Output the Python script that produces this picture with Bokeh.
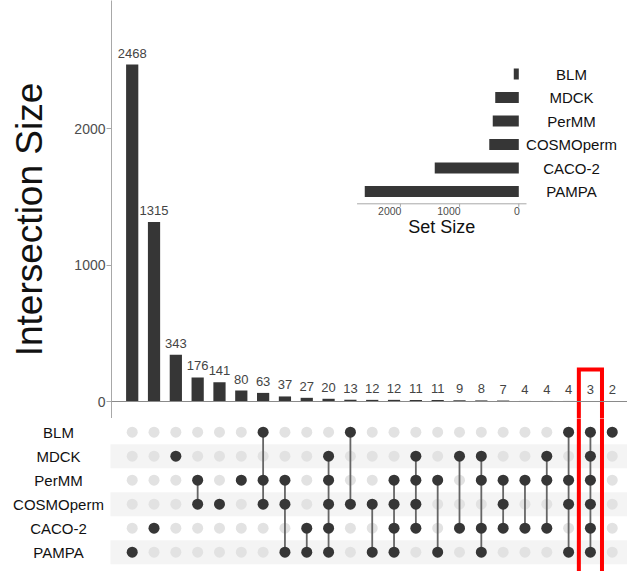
import numpy as np
from bokeh.plotting import figure
from bokeh.models import Range1d, FixedTicker, Span, ColumnDataSource
from bokeh.layouts import column, row
from bokeh.embed import file_html
from bokeh.resources import INLINE
from bokeh.core.properties import value

# ---------------- data ----------------
sets = ["BLM", "MDCK", "PerMM", "COSMOperm", "CACO-2", "PAMPA"]  # top -> bottom
counts = [2468, 1315, 343, 176, 141, 80, 63, 37, 27, 20, 13, 12, 12, 11, 11, 9, 8, 7, 4, 4, 4, 3, 2]
members = [
    ["PAMPA"],
    ["CACO-2"],
    ["MDCK"],
    ["PerMM", "COSMOperm"],
    ["COSMOperm"],
    ["PerMM"],
    ["BLM", "PerMM", "COSMOperm"],
    ["PerMM", "COSMOperm", "PAMPA"],
    ["CACO-2", "PAMPA"],
    ["MDCK", "PerMM", "COSMOperm", "CACO-2", "PAMPA"],
    ["BLM", "COSMOperm"],
    ["COSMOperm", "PAMPA"],
    ["PerMM", "COSMOperm", "CACO-2", "PAMPA"],
    ["MDCK", "PerMM", "COSMOperm", "CACO-2"],
    ["PerMM", "PAMPA"],
    ["MDCK", "CACO-2"],
    ["MDCK", "PerMM", "CACO-2", "PAMPA"],
    ["PerMM", "COSMOperm", "CACO-2"],
    ["PerMM", "CACO-2"],
    ["MDCK", "PerMM", "CACO-2"],
    ["BLM", "PerMM", "COSMOperm", "PAMPA"],
    ["BLM", "MDCK", "PerMM", "COSMOperm", "CACO-2", "PAMPA"],
    ["BLM"],
]
y_ticks = [0, 1000, 2000]
set_size_ticks = [2000, 1000, 0]
highlight_col = 22
y_title = "Intersection Size"

# set sizes derived from the intersections
set_sizes = [sum(c for c, m in zip(counts, members) if s in m) for s in sets]
row_idx = {s: len(sets) - 1 - i for i, s in enumerate(sets)}  # PAMPA=0 ... BLM=5

FONT = "Liberation Sans"
DARK = "#363636"
ncol = len(counts)
cols = list(range(1, ncol + 1))

# ---------------- layout (pixels) ----------------
W = 627
H1 = 418
H2 = 153
TW = 56             # width of the title strip
FL = 111            # frame left of bar chart (page px)
C1 = 131.7          # x pixel of first column
DX = 21.82          # column spacing
Y0 = 401.0          # pixel of y=0 in bar chart
SY = 0.1365         # px per unit

def col_at(px):
    return 1 + (px - C1) / DX

def clean(p):
    p.frame_align = False
    p.outline_line_color = None
    p.grid.visible = False
    p.background_fill_color = "white"
    p.border_fill_color = "white"

# ---------------- title strip ----------------
pt = figure(width=TW, height=H1, output_backend="svg", toolbar_location=None,
            x_axis_type=None, y_axis_type=None,
            x_range=Range1d(0, TW), y_range=Range1d(H1, 0),
            min_border_left=0, min_border_right=0, min_border_top=0, min_border_bottom=0)
clean(pt)
pt.text(x=[29], y=[219], text=[y_title], angle=np.pi / 2, text_align="center",
        text_baseline="middle", text_font=value(FONT), text_font_size="37px",
        text_color="#111111")

# ---------------- top: intersection bars ----------------
p1 = figure(width=W - TW, height=H1, output_backend="svg", toolbar_location=None,
            x_axis_type=None,
            x_range=Range1d(col_at(FL), col_at(W)),
            y_range=Range1d(-(H1 - Y0) / SY, Y0 / SY),
            min_border_left=FL - TW, min_border_right=0, min_border_top=0, min_border_bottom=0)
clean(p1)

ax = p1.yaxis[0]
ax.ticker = FixedTicker(ticks=y_ticks)
ax.minor_tick_line_color = None
ax.major_tick_in = 0
ax.major_tick_out = 5
ax.major_label_standoff = 1
ax.axis_line_color = "#a8a8a8"
ax.major_tick_line_color = "#a8a8a8"
ax.major_label_text_font = FONT
ax.major_label_text_font_size = "14px"
ax.major_label_text_color = "#4d4d4d"

p1.add_layout(Span(location=0, dimension="width", line_color="#8a8a8a", line_width=1))

src = ColumnDataSource(dict(x=cols, top=counts, lab=[str(c) for c in counts]))
p1.vbar(x="x", top="top", bottom=0, width=0.56, source=src, fill_color=DARK, line_color=None)
p1.text(x="x", y="top", text="lab", source=src, text_align="center", text_baseline="bottom",
        y_offset=-7, text_font=value(FONT), text_font_size="13px", text_color="#444444")

# ---- inset: set size bars ----
SS0 = 518.3   # pixel of set size 0
SSX = 0.0592  # px per unit
R0 = 191.0    # pixel of PAMPA row in inset
RY = 23.5
p1.extra_x_ranges = {"ss": Range1d((SS0 - FL) / SSX, (SS0 - W) / SSX)}
p1.extra_y_ranges = {"sr": Range1d((R0 - H1) / RY, R0 / RY)}

ys = [row_idx[s] for s in sets]
p1.hbar(y=ys, left=0, right=set_sizes, height=0.46, fill_color=DARK, line_color=None,
        x_range_name="ss", y_range_name="sr")
p1.text(x=[(SS0 - 571) / SSX] * len(sets), y=ys, text=sets, text_align="center",
        text_baseline="middle", text_font=value(FONT), text_font_size="15px",
        text_color="#111111", x_range_name="ss", y_range_name="sr")
mx = max(set_sizes)
axy = (R0 - 203.3) / RY
p1.line(x=[-0.05 * mx, 1.05 * mx], y=[axy, axy], line_color="#a8a8a8", line_width=1,
        x_range_name="ss", y_range_name="sr")
p1.segment(x0=set_size_ticks, y0=[axy] * 3, x1=set_size_ticks, y1=[axy - 3 / RY] * 3,
           line_color="#a8a8a8", line_width=1, x_range_name="ss", y_range_name="sr")
p1.text(x=set_size_ticks, y=[axy - 3 / RY] * 3, text=[str(t) for t in set_size_ticks],
        text_align="right", text_baseline="top", x_offset=1, text_font=value(FONT),
        text_font_size="10.5px", text_color="#4d4d4d", x_range_name="ss", y_range_name="sr")
p1.text(x=[mx / 2], y=[(R0 - 226) / RY], text=["Set Size"], text_align="center",
        text_baseline="middle", text_font=value(FONT), text_font_size="18px",
        text_color="#111111", x_range_name="ss", y_range_name="sr")

# red highlight box (upper part)
hx0, hx1 = highlight_col - 0.53, highlight_col + 0.53
htop = (Y0 - 369) / SY
p1.line(x=[hx0, hx0, hx1, hx1], y=[-2000, htop, htop, -2000], line_color="red",
        line_width=4, line_join="miter")

# ---------------- bottom: matrix ----------------
M0 = 133.7   # pixel of PAMPA row (within lower panel)
MY = 24.0
p2 = figure(width=W, height=H2, output_backend="svg", toolbar_location=None,
            x_axis_type=None, y_axis_type=None,
            x_range=Range1d(col_at(0), col_at(W)),
            y_range=Range1d((M0 - H2) / MY, M0 / MY),
            min_border_left=0, min_border_right=0, min_border_top=0, min_border_bottom=0)
clean(p2)

stripe_rows = [row_idx[s] for i, s in enumerate(sets) if i % 2 == 1]
xs0 = col_at(110)
xs1 = col_at(W + 20)
p2.hbar(y=stripe_rows, left=xs0, right=xs1, height=1.0, fill_color="#f4f4f4", line_color=None)

p2.text(x=[col_at(58)] * len(sets), y=ys, text=sets, text_align="center", text_baseline="middle",
        text_font=value(FONT), text_font_size="15px", text_color="#111111")

gx, gy = [], []
for c in cols:
    for s in sets:
        gx.append(c)
        gy.append(row_idx[s])
p2.scatter(x=gx, y=gy, size=11, fill_color="#e2e2e2", line_color=None)

lx, ly0, ly1 = [], [], []
dx, dy = [], []
for c, m in zip(cols, members):
    r = [row_idx[s] for s in m]
    for v in r:
        dx.append(c)
        dy.append(v)
    if len(r) > 1:
        lx.append(c)
        ly0.append(min(r))
        ly1.append(max(r))
p2.segment(x0=lx, y0=ly0, x1=lx, y1=ly1, line_color="#666666", line_width=1.8)
p2.scatter(x=dx, y=dy, size=11, fill_color=DARK, line_color=None)

# red highlight box (lower part)
p2.segment(x0=[hx0, hx1], y0=[-5, -5], x1=[hx0, hx1], y1=[10, 10], line_color="red", line_width=4)

layout = column(row(pt, p1, spacing=0), p2, spacing=0)
open("out.html", "w").write(file_html(layout, INLINE))
